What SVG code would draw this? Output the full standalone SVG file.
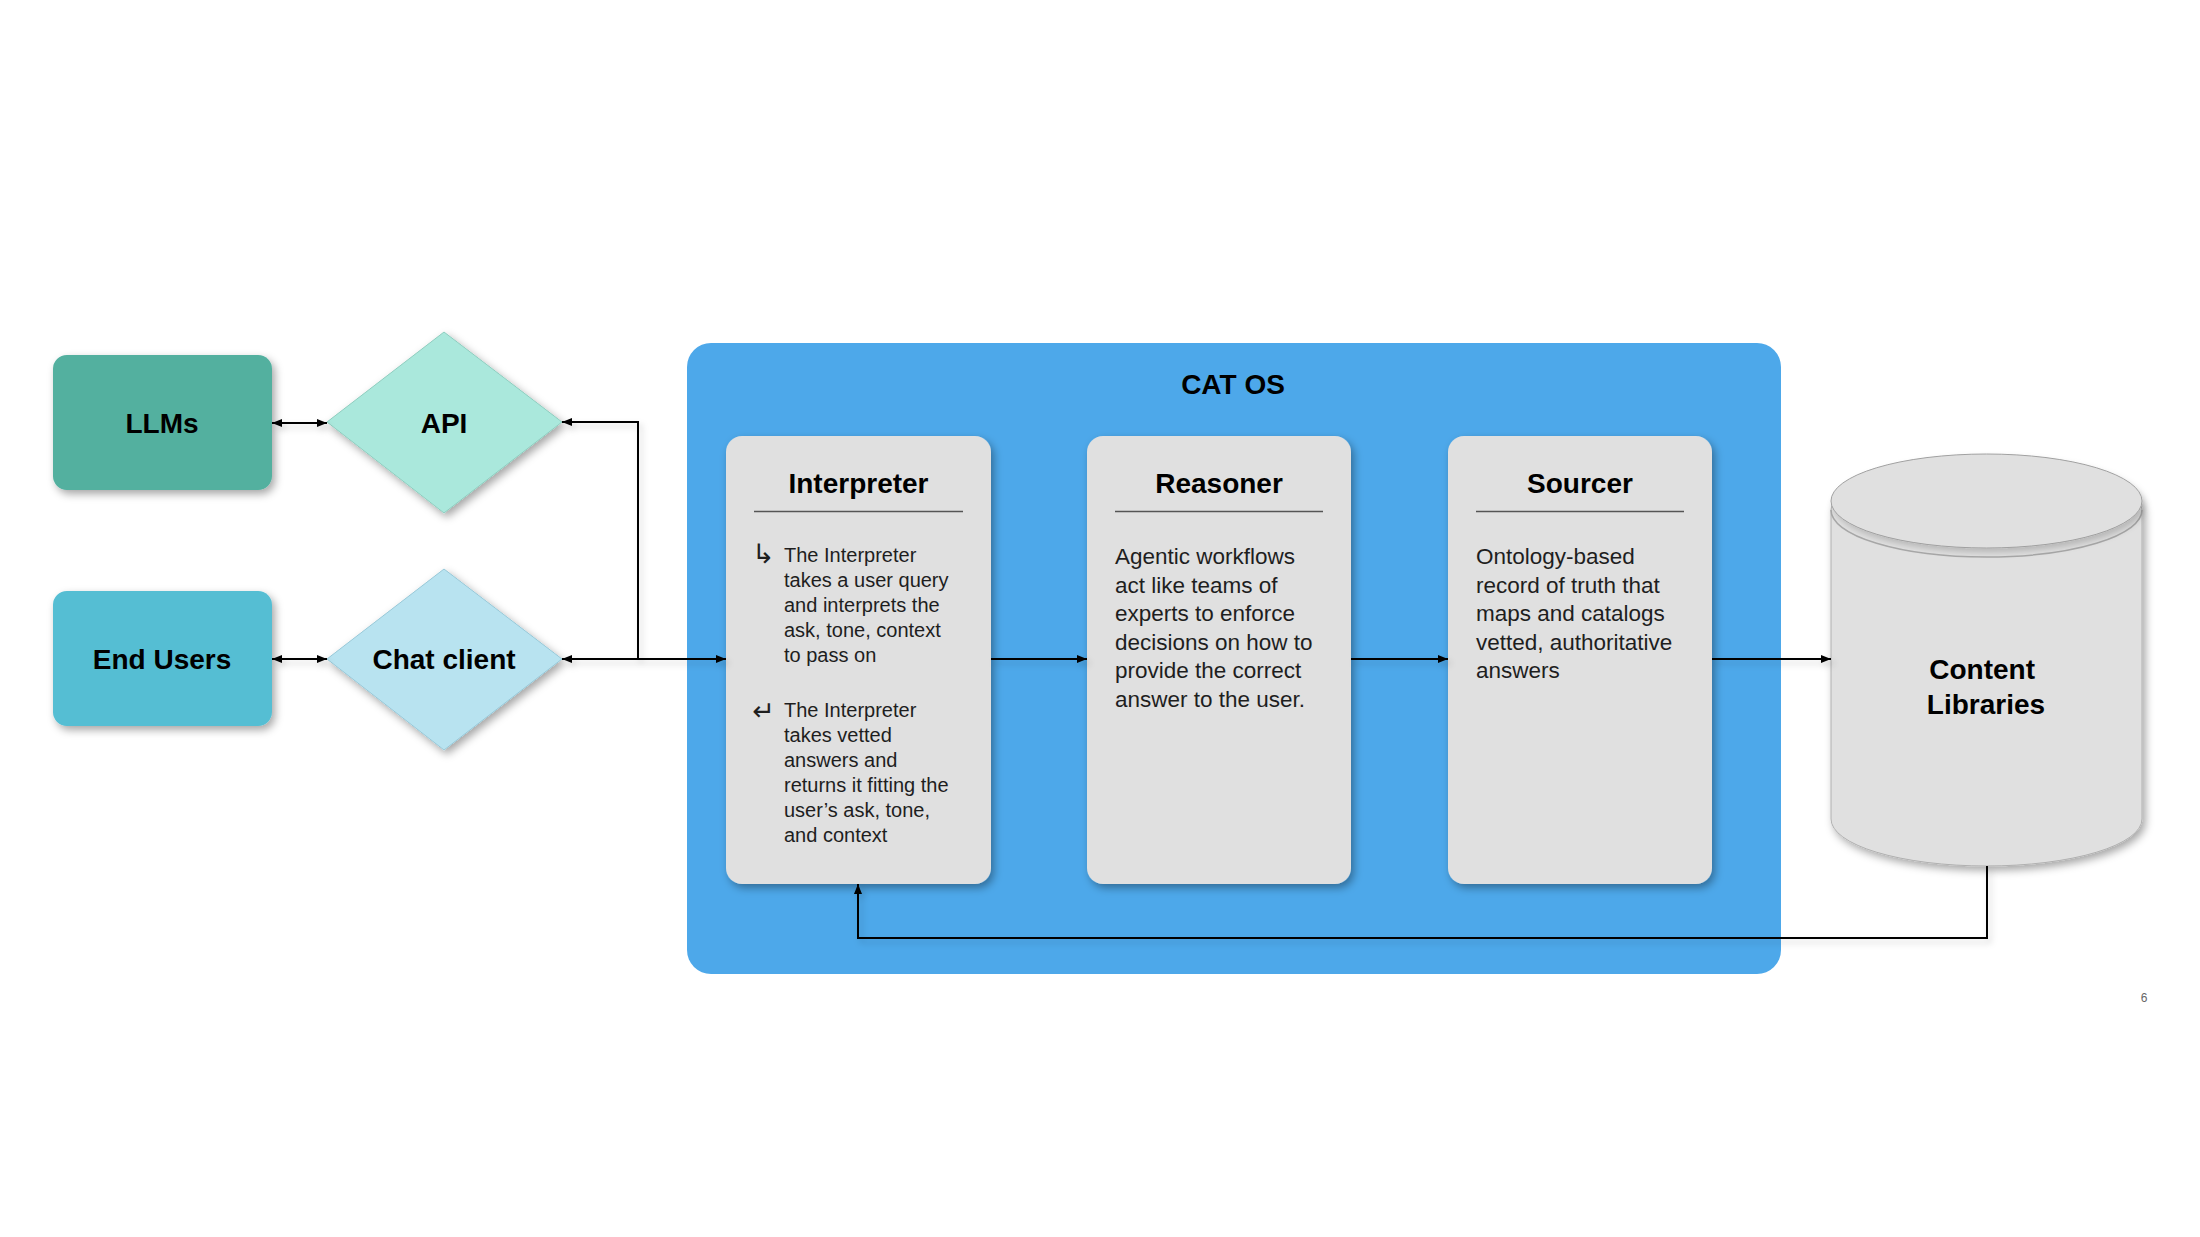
<svg xmlns="http://www.w3.org/2000/svg" width="2200" height="1237" viewBox="0 0 2200 1237">
  <defs>
    <filter id="shadow" x="-20%" y="-20%" width="140%" height="140%">
      <feDropShadow dx="3" dy="4" stdDeviation="4" flood-color="#000" flood-opacity="0.35"/>
    </filter>
    <filter id="lshadow" filterUnits="userSpaceOnUse" x="0" y="0" width="2200" height="1237">
      <feDropShadow dx="3" dy="4" stdDeviation="3" flood-color="#000" flood-opacity="0.18"/>
    </filter>
    <marker id="arrow" viewBox="0 0 10 8" refX="10" refY="4" markerWidth="10" markerHeight="8" markerUnits="userSpaceOnUse" orient="auto-start-reverse">
      <path d="M0,0 L10,4 L0,8 Z" fill="#000"/>
    </marker>
  </defs>
  <style>
    .lbl { font-family: "Liberation Sans", Arial, sans-serif; font-weight: bold; font-size: 28px; fill: #000; text-anchor: middle; }
    .body { font-family: "Liberation Sans", Arial, sans-serif; font-size: 22.5px; fill: #1e1e1e; }
    .small { font-family: "Liberation Sans", Arial, sans-serif; font-size: 20px; fill: #1e1e1e; }
    .icon { font-family: "DejaVu Sans", sans-serif; font-size: 27px; fill: #1e1e1e; }
    .card { fill: #e0e0e0; filter: url(#shadow); }
    .rule { stroke: #555; stroke-width: 1.5; }
    .conn { fill: none; stroke: #000; stroke-width: 2; filter: url(#lshadow); }
  </style>

  <rect width="2200" height="1237" fill="#fff"/>

  <g id="cat-os">
    <rect x="687" y="343" width="1094" height="631" rx="24" fill="#4da8ea"/>
    <text class="lbl" x="1233" y="394">CAT OS</text>
  </g>

  <g id="llms">
    <rect x="53" y="355" width="219" height="135" rx="14" fill="#52b09f" filter="url(#shadow)"/>
    <text class="lbl" x="162" y="433">LLMs</text>
  </g>

  <g id="end-users">
    <rect x="53" y="591" width="219" height="135" rx="14" fill="#55bed3" filter="url(#shadow)"/>
    <text class="lbl" x="162" y="669">End Users</text>
  </g>

  <g id="api">
    <polygon points="444,332 562,422 444,513 327,422" fill="#aae8dc" stroke="#8ecdbf" stroke-width="1" filter="url(#shadow)"/>
    <text class="lbl" x="444" y="433">API</text>
  </g>

  <g id="chat-client">
    <polygon points="444,569 562,659 444,750 327,659" fill="#b8e3f0" stroke="#97c8d8" stroke-width="1" filter="url(#shadow)"/>
    <text class="lbl" x="444" y="669">Chat client</text>
  </g>

  <g id="interpreter">
    <rect class="card" x="726" y="436" width="265" height="448" rx="16"/>
    <text class="lbl" x="858.5" y="493">Interpreter</text>
    <line class="rule" x1="754" y1="511.5" x2="963" y2="511.5"/>
    <text class="icon" x="752" y="563">↳</text>
    <text class="small">
      <tspan x="784" y="562">The Interpreter</tspan>
      <tspan x="784" y="587">takes a user query</tspan>
      <tspan x="784" y="612">and interprets the</tspan>
      <tspan x="784" y="637">ask, tone, context</tspan>
      <tspan x="784" y="662">to pass on</tspan>
    </text>
    <text class="icon" x="752" y="720">↵</text>
    <text class="small">
      <tspan x="784" y="717">The Interpreter</tspan>
      <tspan x="784" y="742">takes vetted</tspan>
      <tspan x="784" y="767">answers and</tspan>
      <tspan x="784" y="792">returns it fitting the</tspan>
      <tspan x="784" y="817">user’s ask, tone,</tspan>
      <tspan x="784" y="842">and context</tspan>
    </text>
  </g>

  <g id="reasoner">
    <rect class="card" x="1087" y="436" width="264" height="448" rx="16"/>
    <text class="lbl" x="1219" y="493">Reasoner</text>
    <line class="rule" x1="1115" y1="511.5" x2="1323" y2="511.5"/>
    <text class="body">
      <tspan x="1115" y="564">Agentic workflows</tspan>
      <tspan x="1115" y="593">act like teams of</tspan>
      <tspan x="1115" y="621">experts to enforce</tspan>
      <tspan x="1115" y="650">decisions on how to</tspan>
      <tspan x="1115" y="678">provide the correct</tspan>
      <tspan x="1115" y="707">answer to the user.</tspan>
    </text>
  </g>

  <g id="sourcer">
    <rect class="card" x="1448" y="436" width="264" height="448" rx="16"/>
    <text class="lbl" x="1580" y="493">Sourcer</text>
    <line class="rule" x1="1476" y1="511.5" x2="1684" y2="511.5"/>
    <text class="body">
      <tspan x="1476" y="564">Ontology-based</tspan>
      <tspan x="1476" y="593">record of truth that</tspan>
      <tspan x="1476" y="621">maps and catalogs</tspan>
      <tspan x="1476" y="650">vetted, authoritative</tspan>
      <tspan x="1476" y="678">answers</tspan>
    </text>
  </g>

  <g id="content-libraries">
    <path d="M1831,510 L1831,819 A155.5,47 0 0 0 2142,819 L2142,510 A155.5,47 0 0 0 1831,510 Z" fill="#e0e0e0" stroke="#b0b0b0" stroke-width="1" filter="url(#shadow)"/>
    <path d="M1831,510 A155.5,47 0 0 0 2142,510" fill="none" stroke="#a8a8a8" stroke-width="1.5"/>
    <ellipse cx="1986.5" cy="501" rx="155.5" ry="47" fill="#e0e0e0" stroke="#a0a0a0" stroke-width="1" filter="url(#lshadow)"/>
    <text class="lbl">
      <tspan x="1986" y="679">Content</tspan>
      <tspan x="1986" y="714">Libraries</tspan>
    </text>
  </g>

  <g id="connectors">
    <path class="conn" d="M272,423 H327" marker-start="url(#arrow)" marker-end="url(#arrow)"/>
    <path class="conn" d="M272,659 H327" marker-start="url(#arrow)" marker-end="url(#arrow)"/>
    <path class="conn" d="M562,659 H726" marker-start="url(#arrow)" marker-end="url(#arrow)"/>
    <path class="conn" d="M638,659 V422 H562" marker-end="url(#arrow)"/>
    <path class="conn" d="M991,659 H1087" marker-end="url(#arrow)"/>
    <path class="conn" d="M1351,659 H1448" marker-end="url(#arrow)"/>
    <path class="conn" d="M1712,659 H1831" marker-end="url(#arrow)"/>
    <path class="conn" d="M1987,866 V938 H858 V884" marker-end="url(#arrow)"/>
  </g>

  <text x="2144" y="1002" font-family="Liberation Sans, Arial, sans-serif" font-size="12" fill="#666" text-anchor="middle">6</text>
</svg>
